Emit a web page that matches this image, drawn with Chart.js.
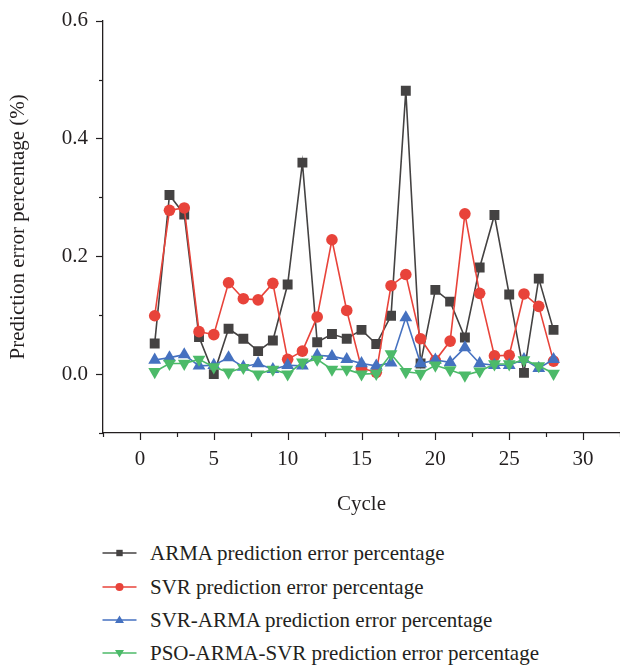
<!DOCTYPE html>
<html lang="en">
<head>
    <meta charset="UTF-8">
    <title>Prediction error percentage</title>
    <script src="https://cdn.jsdelivr.net/npm/chart.js"></script>
    <style>
        body {
            margin: 0;
            padding: 0;
            background: #ffffff;
            font-family: 'Liberation Serif', serif;
            color: #231f20;
        }
        .wrap {
            position: relative;
            width: 620px;
            height: 665px;
            overflow: hidden;
        }
        #errChart {
            position: absolute;
            left: 0;
            top: 0;
        }
        .legend-row {
            position: absolute;
            left: 100px;
            height: 24px;
            line-height: 24px;
            font-size: 21px;
            white-space: nowrap;
        }
        .legend-row canvas {
            position: absolute;
            left: 0;
            top: 0;
        }
        .legend-row span {
            position: absolute;
            left: 50px;
            top: 0;
        }
    </style>
</head>
<body>
<div class="wrap">
    <canvas id="errChart" width="620" height="520"></canvas>
    <div id="legend"></div>
</div>

<script>
    // Cycle numbers
    const cycles = [1, 2, 3, 4, 5, 6, 7, 8, 9, 10, 11, 12, 13, 14, 15, 16, 17, 18, 19, 20, 21, 22, 23, 24, 25, 26, 27, 28];

    // Prediction error percentage
    const armaErr = [0.052, 0.304, 0.271, 0.063, 0.000, 0.077, 0.060, 0.039, 0.057, 0.152, 0.359, 0.054, 0.068, 0.060,
                     0.075, 0.051, 0.099, 0.481, 0.018, 0.143, 0.123, 0.062, 0.181, 0.270, 0.135, 0.002, 0.162, 0.075];
    const svrErr = [0.099, 0.278, 0.282, 0.072, 0.067, 0.155, 0.128, 0.126, 0.154, 0.025, 0.039, 0.097, 0.228, 0.108,
                    0.010, 0.003, 0.150, 0.169, 0.060, 0.023, 0.056, 0.272, 0.137, 0.031, 0.032, 0.136, 0.115, 0.022];
    const svrArmaErr = [0.024, 0.028, 0.033, 0.014, 0.015, 0.028, 0.012, 0.018, 0.008, 0.015, 0.014, 0.032, 0.030, 0.025,
                        0.018, 0.014, 0.019, 0.096, 0.018, 0.024, 0.020, 0.045, 0.018, 0.015, 0.015, 0.025, 0.010, 0.025];
    const psoErr = [0.004, 0.018, 0.018, 0.025, 0.012, 0.003, 0.011, 0.000, 0.008, 0.000, 0.020, 0.025, 0.008, 0.008,
                    0.000, 0.001, 0.034, 0.004, 0.001, 0.015, 0.007, -0.002, 0.005, 0.017, 0.017, 0.024, 0.014, 0.001];

    const seriesNames = [
        'ARMA prediction error percentage',
        'SVR prediction error percentage',
        'SVR-ARMA prediction error percentage',
        'PSO-ARMA-SVR prediction error percentage'
    ];

    const xMajorLabels = [0, 5, 10, 15, 20, 25, 30];
    const yMajorLabels = ['0.0', '0.2', '0.4', '0.6'];

    const ink = '#231f20';
    const fontFamily = "'Liberation Serif', serif";

    const styles = [
        { color: '#444242', point: 'rect', radius: 7, rotation: 0 },
        { color: '#e8433a', point: 'circle', radius: 5.8, rotation: 0 },
        { color: '#4571c0', point: 'triangle', radius: 7.4, rotation: 0 },
        { color: '#4cba69', point: 'triangle', radius: 7.4, rotation: 180 }
    ];

    const allSeries = [armaErr, svrErr, svrArmaErr, psoErr];

    const datasets = allSeries.map((vals, i) => ({
        label: seriesNames[i],
        data: cycles.map((c, k) => ({ x: c, y: vals[k] })),
        borderColor: styles[i].color,
        backgroundColor: styles[i].color,
        borderWidth: 1.6,
        pointStyle: styles[i].point,
        pointRadius: styles[i].radius,
        pointRotation: styles[i].rotation,
        pointBorderWidth: 0,
        pointBackgroundColor: styles[i].color,
        fill: false,
        tension: 0,
        order: 4 - i   // PSO drawn last (on top)
    }));

    const isMajorX = v => xMajorLabels.includes(v);
    const isMajorY = v => Math.round(v * 10) % 2 === 0;

    // tick marks (long for labelled values, short for the others), drawn through the scales
    const axisTicks = {
        id: 'axisTicks',
        afterDraw(chart) {
            const { ctx } = chart;
            const xs = chart.scales.x;
            const ys = chart.scales.y;
            ctx.save();
            ctx.strokeStyle = ink;
            ctx.lineWidth = 1.2;
            xs.ticks.forEach(t => {
                const len = isMajorX(t.value) ? 7 : 4;
                const px = Math.round(xs.getPixelForValue(t.value)) + 0.5;
                ctx.beginPath();
                ctx.moveTo(px, xs.top);
                ctx.lineTo(px, xs.top + len);
                ctx.stroke();
            });
            ys.ticks.forEach(t => {
                const len = isMajorY(t.value) ? 7 : 4;
                const py = Math.round(ys.getPixelForValue(t.value)) + 0.5;
                ctx.beginPath();
                ctx.moveTo(ys.right, py);
                ctx.lineTo(ys.right - len, py);
                ctx.stroke();
            });
            ctx.restore();
        }
    };

    const ctx = document.getElementById('errChart').getContext('2d');
    const errChart = new Chart(ctx, {
        type: 'line',
        data: { datasets: datasets },
        options: {
            responsive: false,
            animation: false,
            layout: { autoPadding: false, padding: { top: 15, right: 0, bottom: 0, left: 0 } },
            plugins: {
                legend: { display: false },
                tooltip: { enabled: false }
            },
            scales: {
                x: {
                    type: 'linear',
                    min: -2.5,
                    max: 32.5,
                    afterFit: s => { s.height = 87; s.paddingRight = 0; },
                    border: { display: true, color: ink, width: 1.3 },
                    grid: {
                        drawOnChartArea: false,
                        drawTicks: true,
                        tickLength: 0,
                        tickColor: 'rgba(0,0,0,0)'
                    },
                    ticks: {
                        stepSize: 2.5,
                        autoSkip: false,
                        maxRotation: 0,
                        padding: 0,
                        color: ink,
                        font: { family: fontFamily, size: 21, lineHeight: '53px' },
                        callback: v => isMajorX(v) ? String(v) : ''
                    },
                    title: {
                        display: true,
                        text: 'Cycle',
                        color: ink,
                        font: { family: fontFamily, size: 21 },
                        padding: { top: 0, bottom: 3 }
                    }
                },
                y: {
                    type: 'linear',
                    min: -0.1,
                    max: 0.6,
                    afterFit: s => { s.width = 103; },
                    border: { display: true, color: ink, width: 1.3 },
                    grid: {
                        drawOnChartArea: false,
                        drawTicks: true,
                        tickLength: 7,
                        tickColor: 'rgba(0,0,0,0)'
                    },
                    ticks: {
                        stepSize: 0.1,
                        autoSkip: false,
                        padding: 8,
                        color: ink,
                        font: { family: fontFamily, size: 21 },
                        callback: v => {
                            const lbl = (Math.round(v * 10) / 10).toFixed(1);
                            return yMajorLabels.includes(lbl) ? lbl : '';
                        }
                    },
                    title: {
                        display: true,
                        text: 'Prediction error percentage (%)',
                        color: ink,
                        font: { family: fontFamily, size: 21 },
                        padding: { top: 6, bottom: 0 }
                    }
                }
            }
        },
        plugins: [axisTicks]
    });

    // legend below the chart: line with marker, then the name
    const legendBox = document.getElementById('legend');
    const rowCenters = [553, 586.5, 619.5, 653];
    seriesNames.forEach((name, i) => {
        const row = document.createElement('div');
        row.className = 'legend-row';
        row.style.top = (rowCenters[i] - 12) + 'px';
        const icon = document.createElement('canvas');
        icon.width = 40;
        icon.height = 24;
        const g = icon.getContext('2d');
        g.strokeStyle = styles[i].color;
        g.fillStyle = styles[i].color;
        g.lineWidth = 1.5;
        g.beginPath();
        g.moveTo(2.5, 12);
        g.lineTo(36.5, 12);
        g.stroke();
        const cx = 19.5, cy = 12;
        g.beginPath();
        if (styles[i].point === 'rect') {
            g.rect(cx - 3.2, cy - 3.2, 6.4, 6.4);
        } else if (styles[i].point === 'circle') {
            g.arc(cx, cy, 4, 0, Math.PI * 2);
        } else if (styles[i].rotation === 0) {
            g.moveTo(cx, cy - 4.5);
            g.lineTo(cx + 4.5, cy + 3);
            g.lineTo(cx - 4.5, cy + 3);
            g.closePath();
        } else {
            g.moveTo(cx, cy + 4.5);
            g.lineTo(cx + 4.5, cy - 3);
            g.lineTo(cx - 4.5, cy - 3);
            g.closePath();
        }
        g.fill();
        const txt = document.createElement('span');
        txt.textContent = name;
        row.appendChild(icon);
        row.appendChild(txt);
        legendBox.appendChild(row);
    });
</script>
</body>
</html>
